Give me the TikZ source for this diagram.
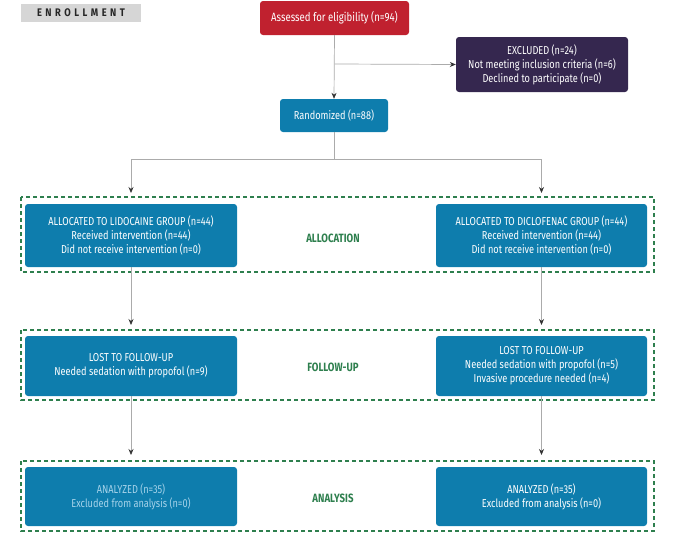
\documentclass[tikz,border=0pt]{standalone}
\usepackage{fontspec}
\setmainfont{Fira Sans}
\newfontfamily\cond[FakeStretch=0.8]{Fira Sans}
\newfontfamily\spaced[LetterSpace=32,FakeStretch=0.85]{Fira Sans}
\usetikzlibrary{arrows.meta,positioning}
\definecolor{cred}{HTML}{C0212F}
\definecolor{cpurple}{HTML}{35274F}
\definecolor{cblue}{HTML}{0E7DAD}
\definecolor{cgreen}{HTML}{2E7F4E}
\definecolor{cgray}{HTML}{D6D6D6}
\definecolor{cline}{HTML}{ABABAB}
\definecolor{clight}{HTML}{A6D3EA}
\tikzset{
  box/.style={rounded corners=3pt, align=center, text=white, inner sep=2pt,
    font=\cond\fontsize{11.5}{14}\selectfont},
  bluebox/.style={box, fill=cblue, minimum width=212pt},
  stage/.style={draw=cgreen, line width=1.3pt, dash pattern=on 4pt off 3pt},
  stagelabel/.style={text=cgreen, font=\cond\bfseries\fontsize{12}{14}\selectfont},
  conn/.style={draw=cline, line width=0.7pt},
  arr/.style={conn, -{Stealth[length=6pt,width=5pt,color=black!80]}},
}
\begin{document}
\begin{tikzpicture}[x=1pt,y=-1pt]
\useasboundingbox (0,0) rectangle (675,538);
% enrollment label
\node[fill=cgray, minimum width=120pt, minimum height=18pt, inner sep=0pt,
  text=black!85, font=\spaced\bfseries\fontsize{11}{12}\selectfont] (enroll) at (81,13) {ENROLLMENT};
% top boxes
\node[box, fill=cred, minimum width=149pt, minimum height=34pt, font=\cond\fontsize{12}{14}\selectfont] (assess) at (334.5,18) {Assessed for eligibility (n=94)};
\node[box, fill=cpurple, minimum width=172pt, minimum height=55pt] (excl) at (542,64.5)
  {EXCLUDED (n=24)\\Not meeting inclusion criteria (n=6)\\Declined to participate (n=0)};
\node[box, fill=cblue, minimum width=108pt, minimum height=33pt] (rand) at (334,115.5) {Randomized (n=88)};
% stage frames
\draw[stage] (21,197) rectangle (654,272);
\draw[stage] (21,330) rectangle (654,400);
\draw[stage] (21,461) rectangle (654,531);
% allocation
\node[bluebox, minimum height=63pt] (alL) at (131,235.5)
  {ALLOCATED TO LIDOCAINE GROUP (n=44)\\Received intervention (n=44)\\Did not receive intervention (n=0)};
\node[bluebox, minimum width=211pt, minimum height=63pt] (alR) at (541.5,235.5)
  {ALLOCATED TO DICLOFENAC GROUP (n=44)\\Received intervention (n=44)\\Did not receive intervention (n=0)};
\node[stagelabel] (lab1) at (333,238) {ALLOCATION};
% follow-up
\node[bluebox, minimum height=60pt] (fuL) at (131,366)
  {LOST TO FOLLOW-UP\\Needed sedation with propofol (n=9)};
\node[bluebox, minimum width=211pt, minimum height=60pt] (fuR) at (541.5,366)
  {LOST TO FOLLOW-UP\\Needed sedation with propofol (n=5)\\Invasive procedure needed (n=4)};
\node[stagelabel] (lab2) at (333,367) {FOLLOW-UP};
% analysis
\node[bluebox, minimum height=59pt, text=clight] (anL) at (131,496.5)
  {ANALYZED (n=35)\\Excluded from analysis (n=0)};
\node[bluebox, minimum width=211pt, minimum height=59pt] (anR) at (541.5,496.5)
  {ANALYZED (n=35)\\Excluded from analysis (n=0)};
\node[stagelabel] (lab3) at (333,498) {ANALYSIS};
% connectors
\coordinate (branch) at (334.5,64);
\coordinate (split) at (334,159);
\coordinate (tipL1) at (131,193);
\coordinate (tipR1) at (541.5,193);
\coordinate (tipL2) at (131,325);
\coordinate (tipR2) at (541.5,325);
\coordinate (tipL3) at (131,455);
\coordinate (tipR3) at (541.5,455);
\draw[arr] (assess.south) -- (rand.north);
\draw[arr] (branch) -- (excl.west);
\draw[conn] (rand.south) -- (split);
\draw[arr] (split) -| (tipL1);
\draw[arr] (split) -| (tipR1);
\draw[arr] (alL.south) -- (tipL2);
\draw[arr] (alR.south) -- (tipR2);
\draw[arr] (fuL.south) -- (tipL3);
\draw[arr] (fuR.south) -- (tipR3);
\end{tikzpicture}
\end{document}
